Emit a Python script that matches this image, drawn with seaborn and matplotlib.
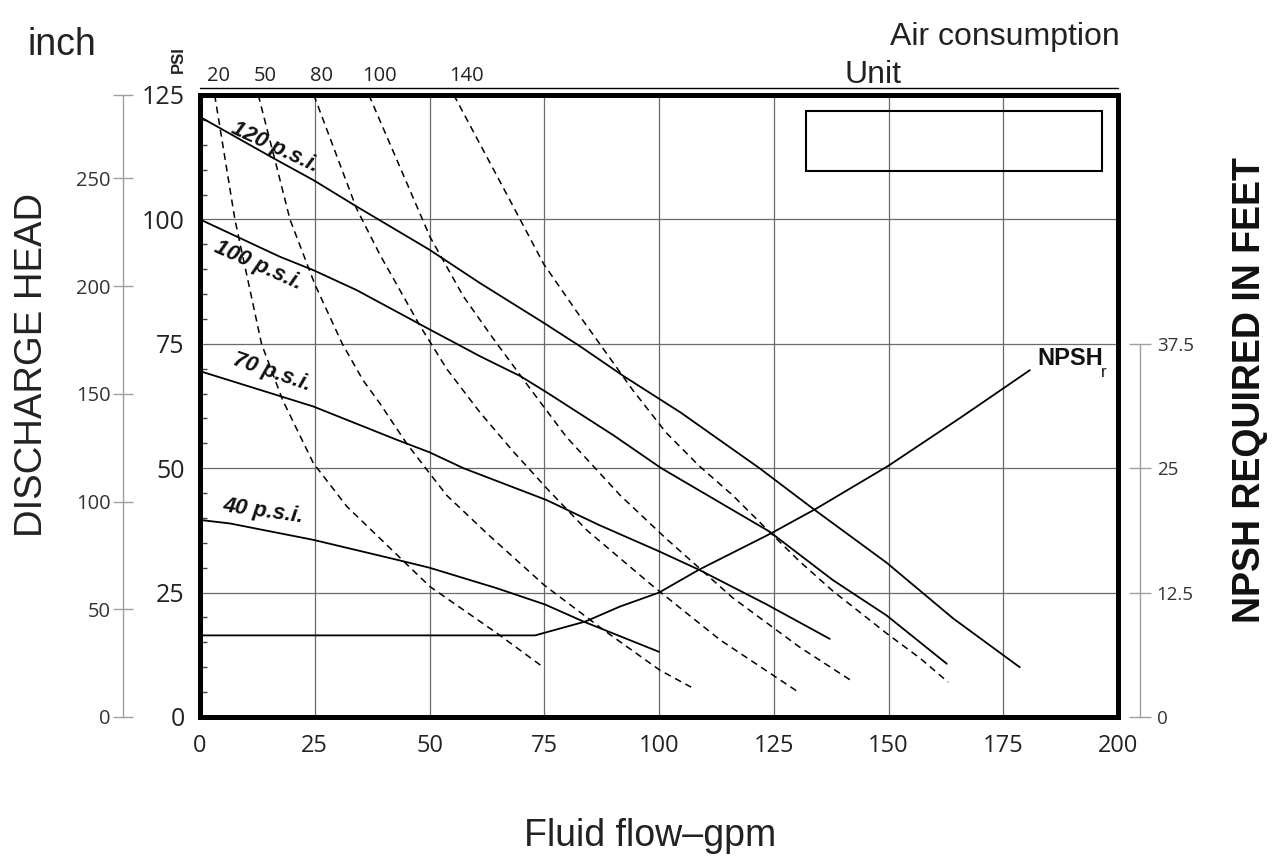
import numpy as np
import pandas as pd
import matplotlib
matplotlib.use('Agg')
import matplotlib.pyplot as plt
import matplotlib.transforms as mtransforms
from matplotlib.patches import Rectangle
from matplotlib.lines import Line2D
from matplotlib.ticker import MultipleLocator
import seaborn as sns

# ------------------------------------------------------------------
# data
# ------------------------------------------------------------------
# discharge head (psi) vs flow (gpm) for each air inlet pressure
flow_120 = [0, 16, 24.7, 34.1, 50, 61, 74.9, 82.8, 92.3, 104.7, 121.9, 133.5, 149.6, 164.1, 178.6]
head_120 = [120.6, 112.3, 107.9, 102.6, 93.9, 87.2, 79.2, 74.5, 68.5, 61.2, 50, 41.9, 31, 19.8, 10]

flow_100 = [0, 17.4, 24.7, 34.1, 50, 61, 69.8, 75.6, 90.1, 100.5, 124, 137.9, 149.6, 162.7]
head_100 = [100, 92.5, 89.8, 85.8, 77.9, 72.5, 68.5, 65.2, 56.6, 50, 37.3, 27.5, 20.4, 10.7]

flow_70 = [0, 24.7, 42.9, 50, 57.4, 75.5, 86.9, 100, 108.7, 123.3, 137.2]
head_70 = [69.5, 62.4, 55.7, 53.2, 50, 43.6, 38.6, 33.3, 29.6, 22.7, 15.7]

flow_40 = [0, 6.5, 24.7, 42.9, 50, 64.6, 75.2, 83.5, 100]
head_40 = [39.6, 38.9, 35.6, 31.6, 30, 25.9, 22.6, 19.2, 13.1]

psi_names = ['120 p.s.i.', '100 p.s.i.', '70 p.s.i.', '40 p.s.i.']

# air consumption curves (dashed)
air_labels = ['20', '50', '80', '100', '140']
air_20_flow = [3.2, 7.6, 13.4, 18, 24.7, 32, 50.1, 64.6, 74.8]
air_20_head = [125, 100, 75, 63.7, 51, 42.3, 26.2, 16.9, 10]
air_50_flow = [12.7, 16.7, 19.6, 25, 31, 35.5, 39.2, 45, 50, 53.8, 62.5, 75, 87.9, 100.2, 107]
air_50_head = [125, 110.6, 100, 87, 75, 67.7, 63, 55, 49, 44.5, 36.9, 26.5, 17.5, 9.4, 6]
air_80_flow = [24.8, 34.1, 39.2, 48, 53.8, 61, 68.3, 75.6, 84.2, 98.8, 113.3, 130.7]
air_80_head = [125, 102.2, 92.9, 78.5, 69.9, 61.2, 53.3, 45.9, 37.6, 26.2, 15.5, 4.8]
air_100_flow = [36.8, 50.1, 57.4, 64, 72, 79.9, 91.6, 101.5, 116, 130.7, 142.4]
air_100_head = [125, 96.5, 84.5, 75.9, 65.9, 56.2, 44.5, 35.9, 24, 14, 7]
air_140_flow = [55.3, 68.3, 74.9, 82.8, 89.1, 94.2, 101.5, 108.7, 116, 123.3, 130.6, 137.9, 145.2, 149.6, 156.9, 163]
air_140_head = [125, 102.5, 91, 80.5, 72.4, 65.8, 57.2, 50.5, 44.6, 37.9, 31.3, 25.3, 20, 16.8, 11.8, 7]

# NPSH required (feet)
npsh_flow = [0, 73, 84, 91.5, 100, 108.7, 124.4, 134.3, 150, 165.6, 180.8]
npsh_feet = [8.2, 8.2, 9.6, 11.1, 12.5, 14.8, 18.45, 20.95, 25.25, 30.05, 34.85]

flow_ticks = [0, 25, 50, 75, 100, 125, 150, 175, 200]
psi_ticks = [0, 25, 50, 75, 100, 125]
feet_ticks = [0, 50, 100, 150, 200, 250]
npsh_ticks = [0, 12.5, 25, 37.5]
npsh_tick_labels = ['0', '12.5', '25', '37.5']

FT_PER_PSI = 2.31

# ------------------------------------------------------------------
# figure
# ------------------------------------------------------------------
sns.set_theme(style='white')
plt.rcParams['font.family'] = ['Liberation Sans', 'DejaVu Sans']

W, H = 1277, 858
fig = plt.figure(figsize=(W / 100, H / 100), dpi=100)
ax = fig.add_axes([200 / W, 1 - 717 / H, 918 / W, 622 / H])

pressure_curves = [(flow_120, head_120), (flow_100, head_100), (flow_70, head_70), (flow_40, head_40)]
for q, h in pressure_curves:
    sns.lineplot(x=q, y=h, ax=ax, color='black', linewidth=1.3)

air_curves = [(air_20_flow, air_20_head), (air_50_flow, air_50_head), (air_80_flow, air_80_head),
              (air_100_flow, air_100_head), (air_140_flow, air_140_head)]
for q, h in air_curves:
    sns.lineplot(x=q, y=h, ax=ax, color='black', linewidth=1.1, linestyle=(0, (4.5, 3.2)))

ax.set_xlim(0, 200)
ax.set_ylim(0, 125)
ax.set_xticks(flow_ticks)
ax.set_yticks(psi_ticks)
ax.xaxis.set_minor_locator(MultipleLocator(5))
ax.yaxis.set_minor_locator(MultipleLocator(5))
ax.set_xlabel('')
ax.set_ylabel('')
ax.grid(True, which='major', color='#6a6a6a', linewidth=0.9)
ax.set_axisbelow(True)
ax.tick_params(which='both', direction='in', top=False, right=False)
ax.tick_params(which='major', length=0)
ax.tick_params(which='minor', length=5, width=1, color='#444444')
ax.tick_params(axis='x', which='major', pad=12, labelsize=17, labelcolor='#222222')
ax.tick_params(axis='y', which='major', pad=11, labelsize=18, labelcolor='#222222')
for lab in ax.get_xticklabels() + ax.get_yticklabels():
    lab.set_family(['Open Sans', 'DejaVu Sans'])
for s in ax.spines.values():
    s.set_color('black')
    s.set_linewidth(3.6)

# thin line above the frame
ax.add_line(Line2D([0, 1], [1.011, 1.011], transform=ax.transAxes, color='black',
                   linewidth=1.0, clip_on=False))

# empty unit box
ax.add_patch(Rectangle((132, 109.7), 64.5, 12.1, fill=False, edgecolor='black', linewidth=1.5))

# air consumption labels along the top
top_tr = mtransforms.blended_transform_factory(ax.transData, ax.transAxes)
label_shift = [0.8, 1.5, 1.6, 2.2, 2.8]
for (q, h), lab, dx in zip(air_curves, air_labels, label_shift):
    ax.text(q[0] + dx, 1.022, lab, transform=top_tr, ha='center', va='baseline',
            fontsize=14.5, family=['Open Sans', 'DejaVu Sans'], color='#222222')

# pressure curve labels
lab_font = dict(family=['Liberation Sans', 'DejaVu Sans'], fontsize=16,
                fontweight='bold', fontstyle='italic', ha='center', va='center', color='#111111')
ax.text(16.3, 114.4, psi_names[0], rotation=-25, **lab_font)
ax.text(12.6, 90.7, psi_names[1], rotation=-24, **lab_font)
ax.text(15.7, 69.3, psi_names[2], rotation=-19, **lab_font)
ax.text(13.8, 41.3, psi_names[3], rotation=-8, **lab_font)

# outer feet scale on the left
ax_ft = ax.twinx()
ax_ft.yaxis.set_ticks_position('left')
ax_ft.spines['left'].set_position(('axes', -0.084))
for s in ['top', 'right', 'bottom']:
    ax_ft.spines[s].set_visible(False)
ax_ft.spines['left'].set_color('#a0a0a0')
ax_ft.spines['left'].set_linewidth(1.0)
ax_ft.set_ylim(0, 125 * FT_PER_PSI)
ax_ft.set_yticks(feet_ticks + [125 * FT_PER_PSI])
ax_ft.set_yticklabels([str(t) for t in feet_ticks] + [''])
ax_ft.tick_params(axis='y', direction='inout', length=14, width=1, color='#a0a0a0',
                  labelsize=14.5, pad=2, labelcolor='#333333')
for lab in ax_ft.get_yticklabels():
    lab.set_family(['Open Sans', 'DejaVu Sans'])

# NPSH scale on the right
ax_n = ax.twinx()
sns.lineplot(x=npsh_flow, y=npsh_feet, ax=ax_n, color='black', linewidth=1.3)
ax_n.set_xlim(0, 200)
ax_n.set_ylim(0, 62.5)
ax_n.set_ylabel('')
ax_n.spines['right'].set_position(('axes', 1.024))
ax_n.spines['right'].set_bounds(0, 37.5)
for s in ['top', 'left', 'bottom']:
    ax_n.spines[s].set_visible(False)
ax_n.spines['right'].set_color('#a0a0a0')
ax_n.spines['right'].set_linewidth(1.0)
ax_n.set_yticks(npsh_ticks)
ax_n.set_yticklabels(npsh_tick_labels)
ax_n.tick_params(axis='y', direction='inout', length=16, width=1, color='#a0a0a0',
                 labelsize=13.5, pad=4, labelcolor='#333333')
for lab in ax_n.get_yticklabels():
    lab.set_family(['Open Sans', 'DejaVu Sans'])
ax_n.text(182.4, 35.4, 'NPSH', fontsize=17, fontweight='bold', ha='left', va='baseline', color='#111111')
ax_n.text(196.3, 34.2, 'r', fontsize=12, ha='left', va='baseline', color='#111111')

# titles and axis captions
fig.text(28 / W, 1 - 55 / H, 'inch', fontsize=27, ha='left', va='baseline', color='#222222')
fig.text(178 / W, 1 - 60 / H, 'PSI', rotation=90, fontsize=12, fontweight='bold',
         ha='center', va='center', color='#222222')
fig.text(1120 / W, 1 - 45 / H, 'Air consumption', fontsize=23, ha='right', va='baseline', color='#222222')
fig.text(873 / W, 1 - 83 / H, 'Unit', fontsize=23, ha='center', va='baseline', color='#222222')
fig.text(32 / W, 1 - 365 / H, 'DISCHARGE HEAD', rotation=90, fontsize=27.5,
         ha='center', va='center', color='#222222')
fig.text(1250 / W, 1 - 390 / H, 'NPSH REQUIRED IN FEET', rotation=90, fontsize=27, fontweight='bold',
         ha='center', va='center', color='#111111')
fig.text(650 / W, 1 - 846 / H, 'Fluid flow\u2013gpm', fontsize=27, ha='center', va='baseline', color='#222222')

fig.savefig('out.png', dpi=100, facecolor='white')
